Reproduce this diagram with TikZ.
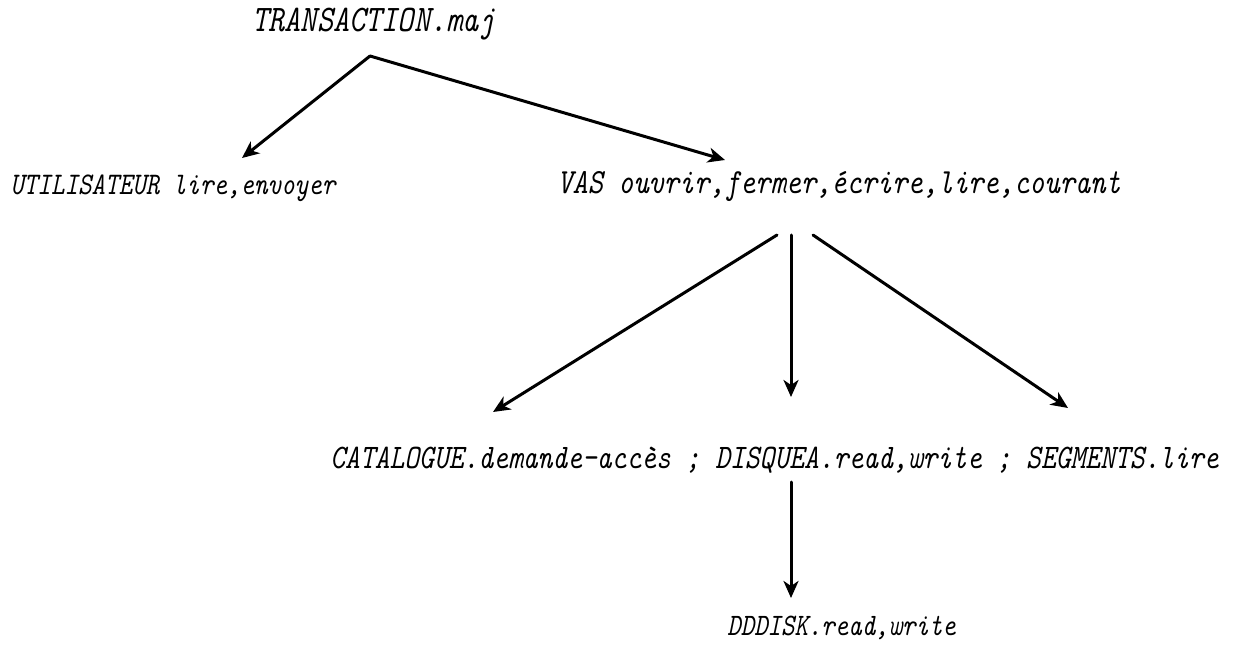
\documentclass[tikz,border=0pt]{standalone}
\usetikzlibrary{arrows.meta}
\newcommand{\tallt}[1]{\scalebox{1}[1.22]{#1}}
\begin{document}
\begin{tikzpicture}[x=0.5pt,y=-0.5pt,
  lbl/.style={anchor=base west,inner sep=0pt},
  arr/.style={line width=1.5pt,line cap=round,line join=round,-{Stealth[length=8.5pt,width=7.5pt,inset=2.5pt]}}]
\useasboundingbox (0,0) rectangle (1243,652);
% texts
\node[lbl,font=\fontsize{15.4}{18}\selectfont\ttfamily\itshape] (trans) at (252,32) {\tallt{TRANSACTION.maj}};
\node[lbl,font=\fontsize{12.9}{16}\selectfont\ttfamily\itshape] (util) at (10,195) {\tallt{UTILISATEUR lire,envoyer}};
\node[lbl,font=\fontsize{14.5}{17}\selectfont\ttfamily\itshape] (vas) at (557,194) {\tallt{VAS ouvrir,fermer,écrire,lire,courant}};
\node[lbl,font=\fontsize{14.1}{17}\selectfont\ttfamily\itshape] (cat) at (330,468) {\tallt{CATALOGUE.demande-accès ; DISQUEA.read,write ; SEGMENTS.lire}};
\node[lbl,font=\fontsize{12.8}{16}\selectfont\ttfamily\itshape] (dd) at (727,635) {\tallt{DDDISK.read,write}};
% connector points
\coordinate (apex) at (370,56);
\coordinate (utilTip) at (242,158);
\coordinate (vasTip) at (725,160);
\coordinate (vasL) at (777,235);
\coordinate (vasM) at (791,235);
\coordinate (vasR) at (813,235);
\coordinate (catL) at (493,412);
\coordinate (catM) at (791,397);
\coordinate (catR) at (1068,408);
\coordinate (catB) at (791,482);
\coordinate (ddTip) at (791,598);
% connectors
\draw[arr] (apex) -- (utilTip);
\draw[arr] (apex) -- (vasTip);
\draw[arr] (vasL) -- (catL);
\draw[arr] (vasM) -- (catM);
\draw[arr] (vasR) -- (catR);
\draw[arr] (catB) -- (ddTip);
\end{tikzpicture}
\end{document}
